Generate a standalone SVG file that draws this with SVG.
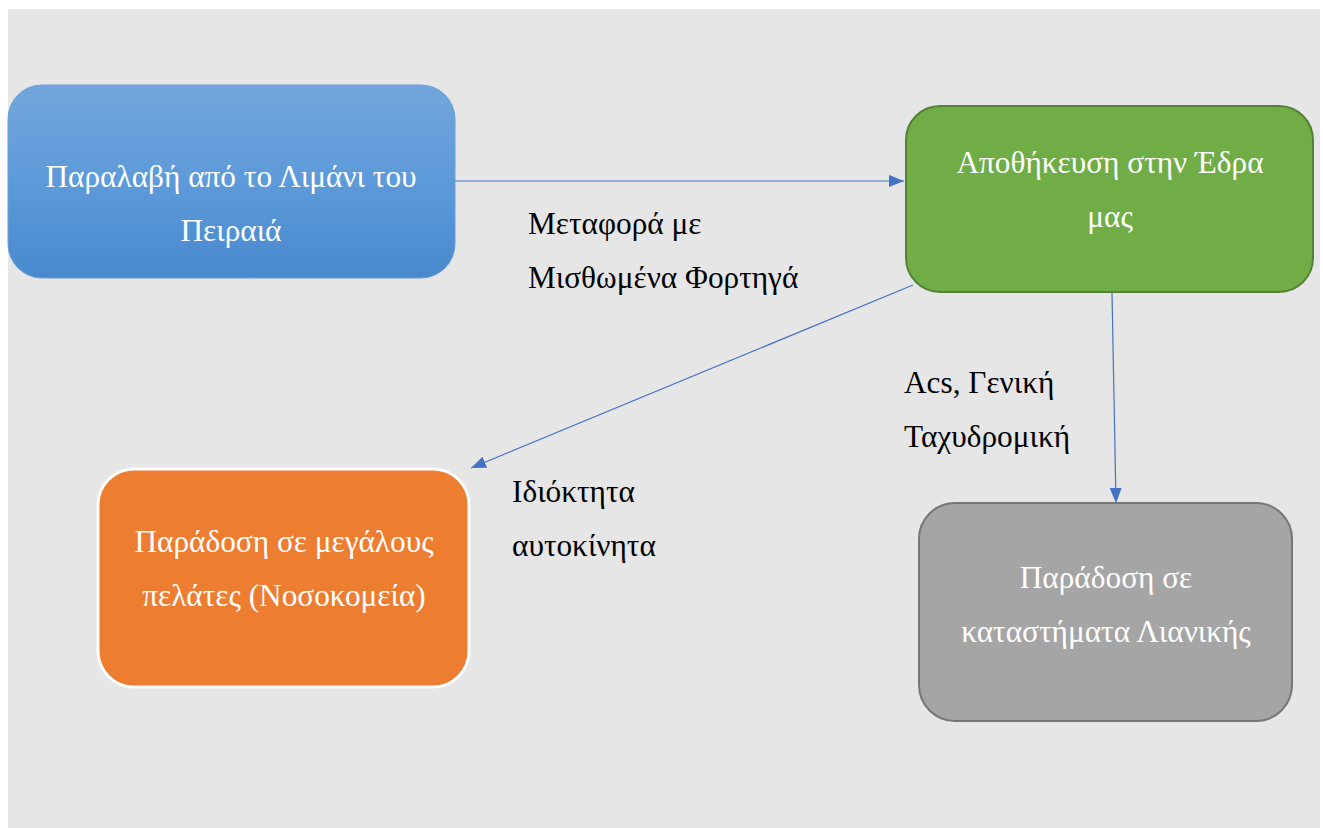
<svg xmlns="http://www.w3.org/2000/svg" width="1323" height="828" viewBox="0 0 1323 828">
<style>
.lbl{font-family:"Liberation Serif","Times New Roman",serif;font-size:31.3px;fill:#000000}
.nt{font-family:"Liberation Serif","Times New Roman",serif;font-size:31.3px;fill:#ffffff;text-anchor:middle}
.con{stroke:#4472c4;stroke-width:1.2;fill:none;marker-end:url(#ah)}
</style>
<defs>
<linearGradient id="gblue" x1="0" y1="0" x2="0" y2="1">
<stop offset="0" stop-color="#72a6dc"/>
<stop offset="0.5" stop-color="#5d9ad9"/>
<stop offset="1" stop-color="#4889cd"/>
</linearGradient>
<marker id="ah" markerUnits="userSpaceOnUse" markerWidth="16" markerHeight="12" refX="15" refY="6" orient="auto">
<path d="M0,0 L15,6 L0,12 Z" fill="#4472c4"/>
</marker>
</defs>
<rect x="0" y="0" width="1323" height="828" fill="#ffffff"/>
<rect x="8" y="9" width="1312" height="819" fill="#e6e6e6"/>

<g id="connectors">
<line class="con" x1="455" y1="181" x2="904" y2="181"/>
<line class="con" x1="913" y1="285" x2="471" y2="468"/>
<line class="con" x1="1112" y1="293" x2="1116" y2="503"/>
</g>

<g id="node-port">
<rect x="8" y="85" width="447" height="193" rx="34" ry="34" fill="url(#gblue)" stroke="#6a9fd8" stroke-width="1"/>
<text class="nt" x="231" y="187">Παραλαβή από το Λιμάνι του</text>
<text class="nt" x="231" y="241">Πειραιά</text>
</g>

<g id="node-storage">
<rect x="906" y="106" width="407" height="186" rx="34" ry="34" fill="#70ad47" stroke="#548235" stroke-width="2"/>
<text class="nt" x="1110" y="173">Αποθήκευση στην Έδρα</text>
<text class="nt" x="1110" y="227">μας</text>
</g>

<g id="node-hospitals">
<rect x="98" y="469" width="371" height="218" rx="36" ry="36" fill="#ed7d31" stroke="#ffffff" stroke-width="3"/>
<text class="nt" x="284" y="552">Παράδοση σε μεγάλους</text>
<text class="nt" x="284" y="606">πελάτες (Νοσοκομεία)</text>
</g>

<g id="node-retail">
<rect x="919" y="503" width="373" height="218" rx="36" ry="36" fill="#a5a5a5" stroke="#767676" stroke-width="2"/>
<text class="nt" x="1106" y="588">Παράδοση σε</text>
<text class="nt" x="1106" y="642">καταστήματα Λιανικής</text>
</g>

<g id="labels">
<text class="lbl" x="528" y="234">Μεταφορά με</text>
<text class="lbl" x="528" y="288">Μισθωμένα Φορτηγά</text>
<text class="lbl" x="904" y="393">Acs, Γενική</text>
<text class="lbl" x="904" y="447">Ταχυδρομική</text>
<text class="lbl" x="512" y="502">Ιδιόκτητα</text>
<text class="lbl" x="512" y="556">αυτοκίνητα</text>
</g>
</svg>
